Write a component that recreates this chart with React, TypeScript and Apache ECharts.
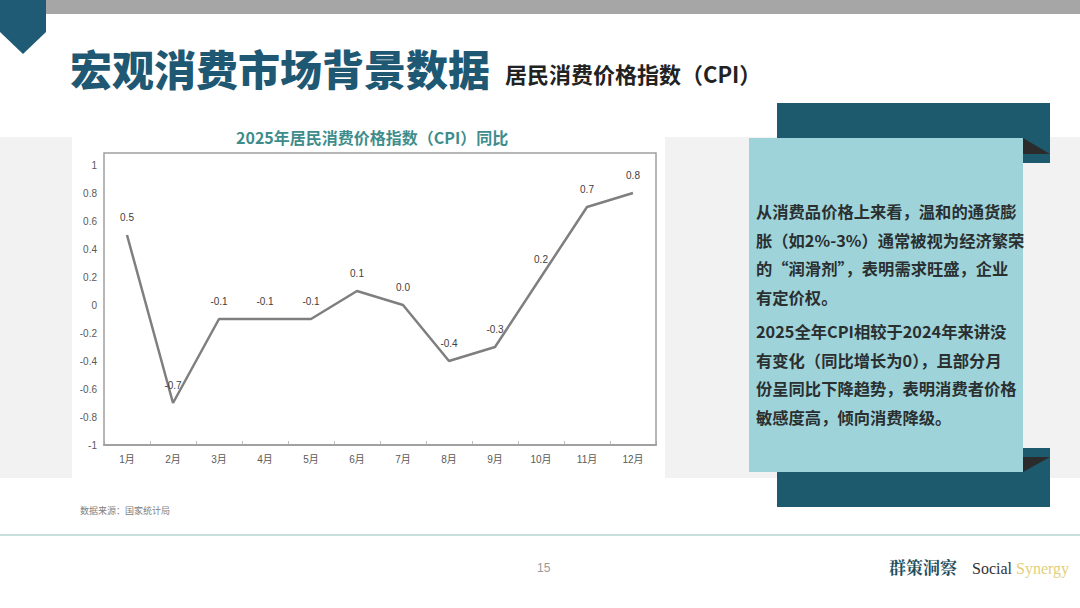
import React, { useEffect, useRef } from "react";
import * as echarts from "echarts";

const months = ["1月", "2月", "3月", "4月", "5月", "6月", "7月", "8月", "9月", "10月", "11月", "12月"];
const cpiYoY = [0.5, -0.7, -0.1, -0.1, -0.1, 0.1, 0.0, -0.4, -0.3, 0.2, 0.7, 0.8];
const yTicks = { min: -1, max: 1, interval: 0.2 };

const pageTitle = "宏观消费市场背景数据";
const pageSubtitle = "居民消费价格指数（CPI）";
const chartTitle = "2025年居民消费价格指数（CPI）同比";
const sourceNote = "数据来源：国家统计局";
const para1 = ["从消费品价格上来看，温和的通货膨", "胀（如2%-3%）通常被视为经济繁荣", "的“润滑剂”，表明需求旺盛，企业", "有定价权。"];
const para2 = ["2025全年CPI相较于2024年来讲没", "有变化（同比增长为0），且部分月", "份呈同比下降趋势，表明消费者价格", "敏感度高，倾向消费降级。"];
const pageNo = "15";

const CJK = "'Noto Sans CJK SC', 'Noto Sans', sans-serif";
const ARIAL = "'Liberation Sans', Arial, 'Noto Sans CJK SC', sans-serif";
const SERIF = "'Liberation Serif', 'DejaVu Serif', serif";
const CJKSERIF = "'Noto Serif CJK SC', 'Noto Sans CJK SC', serif";

export default function App() {
  const ref = useRef<HTMLDivElement>(null);
  useEffect(() => {
    document.body.style.margin = "0";
    const chart = echarts.init(ref.current!, null, { renderer: "svg" });
    const textLines: any[] = [];
    para1.forEach((t, i) => {
      textLines.push({ type: "text", left: 756, top: 213 - 10 + i * 28.5, style: { text: t, font: `bold 16.3px ${CJK}`, fill: "#2a2f30" }, z: 20 });
    });
    para2.forEach((t, i) => {
      textLines.push({ type: "text", left: 756, top: 333 - 10 + i * 28.5, style: { text: t, font: `bold 16.3px ${CJK}`, fill: "#2a2f30" }, z: 20 });
    });
    chart.setOption({
      animation: false,
      backgroundColor: "#ffffff",
      graphic: [
        // top bar
        { type: "rect", shape: { x: 44, y: 0, width: 1036, height: 14 }, style: { fill: "#a6a6a6" }, z: 1 },
        { type: "polygon", shape: { points: [[0, 0], [46, 0], [46, 32], [23, 54], [0, 32]] }, style: { fill: "#1f5b74" }, z: 2 },
        { type: "text", left: 70, top: 46, style: { text: pageTitle, font: `900 42px ${CJK}`, fill: "#1f5872" }, z: 3 },
        { type: "text", left: 505, top: 62, style: { text: pageSubtitle, font: `bold 22px ${CJK}`, fill: "#222222" }, z: 3 },
        // gray band
        { type: "rect", shape: { x: 0, y: 137, width: 1080, height: 341 }, style: { fill: "#f2f2f2" }, z: 0 },
        { type: "rect", shape: { x: 72, y: 118, width: 593, height: 360 }, style: { fill: "#ffffff" }, z: 0 },
        // plot box
        { type: "rect", shape: { x: 104, y: 153, width: 552, height: 292 }, style: { fill: "none", stroke: "#a0a0a0", lineWidth: 1.5 }, z: 1 },
        { type: "text", left: 236, top: 129, style: { text: chartTitle, font: `bold 16px ${CJK}`, fill: "#3e8d8c" }, z: 3 },
        { type: "text", left: 80, top: 506, style: { text: sourceNote, font: `9px ${CJK}`, fill: "#808080" }, z: 3 },
        // right panel
        { type: "rect", shape: { x: 777, y: 103, width: 273, height: 60 }, style: { fill: "#1e5a6e" }, z: 5 },
        { type: "rect", shape: { x: 777, y: 448, width: 273, height: 59 }, style: { fill: "#1e5a6e" }, z: 5 },
        { type: "polygon", shape: { points: [[1023, 138], [1050, 154], [1023, 154]] }, style: { fill: "#2b2b2b" }, z: 6 },
        { type: "polygon", shape: { points: [[1023, 457], [1050, 457], [1023, 472]] }, style: { fill: "#2b2b2b" }, z: 6 },
        { type: "rect", shape: { x: 749, y: 138, width: 274, height: 334 }, style: { fill: "#9fd3da" }, z: 7 },
        ...textLines,
        // footer
        { type: "rect", shape: { x: 0, y: 534, width: 1080, height: 2 }, style: { fill: "#c9dfdc" }, z: 1 },
        { type: "text", left: 537, top: 562, style: { text: pageNo, font: `12px ${ARIAL}`, fill: "#9a9a9a" }, z: 3 },
        { type: "text", left: 889, top: 558, style: { text: "群策洞察", font: `bold 17px ${CJKSERIF}`, fill: "#1f4e5c" }, z: 3 },
        {
          type: "text",
          left: 972,
          top: 560,
          style: {
            text: "{a|Social} {b|Synergy}",
            rich: {
              a: { font: `16px ${SERIF}`, fill: "#333333", color: "#333333" },
              b: { font: `16px ${SERIF}`, fill: "#e2cf7a", color: "#e2cf7a" },
            },
            font: `16px ${SERIF}`,
          },
          z: 3,
        },
      ],
      grid: { left: 104, right: 424, top: 165, bottom: 163, containLabel: false },
      xAxis: {
        type: "category",
        data: months,
        boundaryGap: true,
        axisLine: { show: true, onZero: false, lineStyle: { color: "#a6a6a6", width: 2 } },
        axisTick: { show: true, inside: true, length: 4, lineStyle: { color: "#bfbfbf" } },
        axisLabel: { color: "#595959", fontSize: 10, fontFamily: ARIAL, margin: 9 },
        splitLine: { show: false },
      },
      yAxis: {
        type: "value",
        min: yTicks.min,
        max: yTicks.max,
        interval: yTicks.interval,
        axisLine: { show: false },
        axisTick: { show: false },
        splitLine: { show: false },
        axisLabel: {
          color: "#595959",
          fontSize: 10,
          fontFamily: ARIAL,
          margin: 7,
          formatter: (v: number) => {
            const r = Math.round(v * 10) / 10;
            return r === 0 ? "0" : String(r);
          },
        },
      },
      series: [
        {
          type: "line",
          data: cpiYoY,
          symbol: "circle",
          symbolSize: 1,
          showSymbol: true,
          itemStyle: { color: "rgba(0,0,0,0)" },
          lineStyle: { color: "#7f7f7f", width: 2.5 },
          label: {
            show: true,
            position: "top",
            distance: 12,
            color: "#404040",
            fontSize: 10,
            fontFamily: ARIAL,
            formatter: (p: any) => Number(p.value).toFixed(1),
          },
          z: 4,
        },
      ],
    });
    return () => chart.dispose();
  }, []);
  return <div ref={ref} style={{ position: "fixed", left: 0, top: 0, width: 1080, height: 608 }} />;
}
